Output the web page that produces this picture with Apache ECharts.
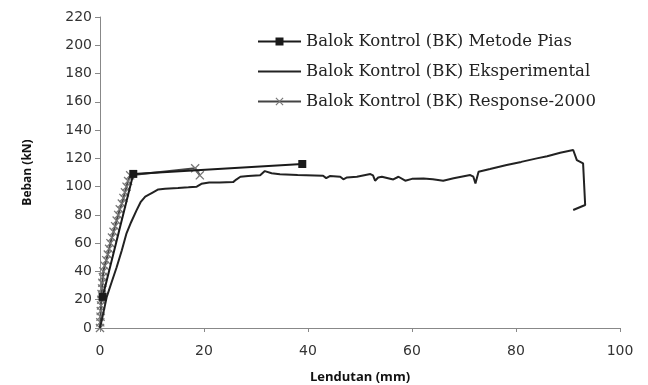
<!DOCTYPE html>
<html>
<head>
<meta charset="utf-8">
<script src="https://cdn.jsdelivr.net/npm/echarts@6/dist/echarts.min.js"></script>
<style>
  html, body { margin: 0; padding: 0; background: #fff; }
  #chart { width: 648px; height: 385px; }
</style>
</head>
<body>
<div id="chart"></div>
<script>
// data: [lendutan mm, beban kN]
var piasData = [[0.5, 22], [6.4, 109], [38.9, 116]];
var responseData = [
    [0, 0], [0.05, 4], [0.1, 8], [0.15, 12], [0.2, 16], [0.25, 20], [0.3, 24],
    [0.4, 28], [0.45, 32], [0.55, 36], [0.65, 40], [0.9, 44], [1.2, 48],
    [1.5, 52], [1.75, 56], [2.0, 60], [2.3, 64], [2.6, 68], [2.9, 72],
    [3.2, 76], [3.5, 80], [3.8, 84], [4.2, 88], [4.5, 92], [4.8, 96],
    [5.1, 100], [5.4, 104], [5.8, 108], [18.3, 113], [19.2, 108]
];
var eksperimenData = [
    [0, 0], [0.6, 10], [1.3, 22], [2.2, 32], [3.2, 43], [4.2, 55], [5.1, 67],
    [6.0, 75], [7.0, 83], [7.8, 89], [8.7, 93], [10.2, 96], [11.2, 98],
    [12.5, 98.5], [15, 99], [17, 99.5], [18.6, 100], [19.5, 102], [21, 103],
    [23, 103], [25.6, 103.2], [26.2, 105], [27, 107], [28.5, 107.5],
    [30.8, 108], [31.7, 111], [33, 109.5], [34.6, 108.7], [38, 108.2],
    [42.9, 107.7], [43.5, 106], [44.2, 107.5], [46.2, 107], [46.8, 105.2],
    [47.5, 106.5], [49.4, 107], [52, 108.9], [52.5, 108], [52.9, 104.2],
    [53.5, 106.5], [54.2, 107], [56.4, 105.1], [57.4, 107], [58.7, 104.2],
    [60, 105.5], [62.2, 105.8], [64, 105.2], [66, 104.2], [68, 106],
    [71.2, 108.2], [71.8, 107], [72.2, 102.3], [72.8, 110.6], [75, 112.5],
    [78.2, 115.3], [81, 117.5], [84, 120], [86, 121.5], [88.5, 124],
    [91, 125.9], [91.7, 118.8], [92.9, 116.5], [93.3, 87], [91, 83.5]
];
var xTicks = [0, 20, 40, 60, 80, 100];
var yTicks = [0, 20, 40, 60, 80, 100, 120, 140, 160, 180, 200, 220];

var crossPath = 'path://M0,1L1,0L5,4L9,0L10,1L6,5L10,9L9,10L5,6L1,10L0,9L4,5Z';

var chart = echarts.init(document.getElementById('chart'));
chart.setOption({
    animation: false,
    backgroundColor: '#fff',
    legend: {
        orient: 'vertical',
        left: 252,
        top: 28,
        itemWidth: 43,
        itemHeight: 10,
        itemGap: 13,
        textStyle: {
            fontFamily: 'DejaVu Serif',
            fontSize: 16.5,
            color: '#222'
        },
        data: [
            'Balok Kontrol (BK) Metode Pias',
            {
                name: 'Balok Kontrol (BK) Eksperimental',
                itemStyle: { color: 'transparent', borderWidth: 0 }
            },
            'Balok Kontrol (BK) Response-2000'
        ]
    },
    grid: {
        left: 100,
        right: 28,
        top: 17,
        bottom: 57,
        outerBoundsMode: 'none'
    },
    xAxis: {
        type: 'value',
        min: xTicks[0],
        max: xTicks[xTicks.length - 1],
        interval: 20,
        name: 'Lendutan (mm)',
        nameLocation: 'middle',
        nameGap: 43,
        nameTextStyle: {
            fontFamily: 'Open Sans',
            fontWeight: 'bold',
            fontSize: 13,
            color: '#111'
        },
        splitLine: { show: false },
        axisLine: { lineStyle: { color: '#888', width: 1 } },
        axisTick: { show: true, length: 4, lineStyle: { color: '#888' } },
        axisLabel: {
            margin: 16,
            fontFamily: 'DejaVu Sans',
            fontSize: 14,
            color: '#333'
        }
    },
    yAxis: {
        type: 'value',
        min: yTicks[0],
        max: yTicks[yTicks.length - 1],
        interval: 20,
        name: 'Beban (kN)',
        nameLocation: 'middle',
        nameGap: 66,
        nameTextStyle: {
            fontFamily: 'Open Sans',
            fontWeight: 'bold',
            fontSize: 12,
            color: '#111'
        },
        splitLine: { show: false },
        axisLine: { show: true, lineStyle: { color: '#888', width: 1 } },
        axisTick: { show: true, length: 5, lineStyle: { color: '#888' } },
        axisLabel: {
            margin: 8,
            fontFamily: 'DejaVu Sans',
            fontSize: 14,
            color: '#333'
        }
    },
    series: [
        {
            type: 'line',
            name: 'Balok Kontrol (BK) Metode Pias',
            symbol: 'rect',
            symbolSize: 8,
            z: 4,
            lineStyle: { width: 2, color: '#1a1a1a' },
            itemStyle: { color: '#1a1a1a' },
            data: piasData
        },
        {
            type: 'line',
            name: 'Balok Kontrol (BK) Eksperimental',
            symbol: 'none',
            z: 3,
            lineStyle: { width: 2, color: '#222' },
            itemStyle: { color: '#222' },
            data: eksperimenData
        },
        {
            type: 'line',
            name: 'Balok Kontrol (BK) Response-2000',
            symbol: crossPath,
            symbolSize: 9,
            z: 2,
            lineStyle: { width: 2, color: '#444' },
            itemStyle: { color: '#777' },
            data: responseData
        }
    ]
});
</script>
</body>
</html>
